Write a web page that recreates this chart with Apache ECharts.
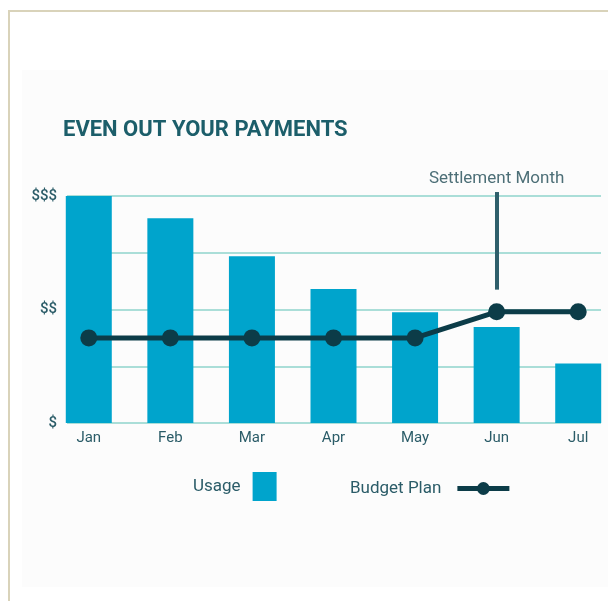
<!DOCTYPE html>
<html>
<head>
<meta charset="utf-8">
<script src="https://cdn.jsdelivr.net/npm/echarts@6/dist/echarts.min.js"></script>
<style>
  body { margin: 0; background: #fff; }
  #frame { position: absolute; left: 8px; top: 10px; width: 600px; height: 591px;
           border-left: 2px solid #d9d3ba; border-top: 2px solid #d9d3ba; box-sizing: border-box; }
  #panel { position: absolute; left: 22px; top: 70px; width: 586px; height: 517px; background: #fcfcfc; }
  #main { position: absolute; left: 0; top: 0; width: 608px; height: 601px; }
</style>
</head>
<body>
<div id="frame"></div>
<div id="panel"></div>
<div id="main"></div>
<script>
// values, in "$" units (axis 0..4)
const months = ['Jan', 'Feb', 'Mar', 'Apr', 'May', 'Jun', 'Jul'];
const usage = [4.0, 3.61, 2.94, 2.36, 1.95, 1.69, 1.05];
const budget = [1.5, 1.5, 1.5, 1.5, 1.5, 1.96, 1.96];
const yTickLabels = ['$', '', '$$', '', '$$$'];
const settlementMonth = 'Jun';
const settlementRange = [4.07, 2.35];

const teal = '#2b5c68';
const barBlue = '#00a4cc';
const lineDark = '#0c3c48';
const gridTeal = '#8fd4cc';

const chart = echarts.init(document.getElementById('main'));

chart.setOption({
    animation: false,
    title: {
        text: 'EVEN OUT YOUR PAYMENTS',
        left: 63,
        top: 119,
        padding: 0,
        textStyle: {
            fontFamily: 'Roboto',
            fontWeight: 'bold',
            fontSize: 22,
            color: '#1c5e6a'
        }
    },
    legend: [{
        data: [{ name: 'Usage', icon: 'rect' }],
        left: 193,
        top: 472,
        padding: 0,
        align: 'right',
        itemWidth: 24,
        itemHeight: 29,
        selectedMode: false,
        textStyle: { fontFamily: 'Roboto', fontSize: 17, color: teal, padding: [4, 7, 0, 0] }
    }, {
        data: ['Budget Plan'],
        left: 350,
        top: 480,
        padding: 0,
        align: 'right',
        itemWidth: 52,
        itemHeight: 16,
        selectedMode: false,
        lineStyle: { width: 5, color: lineDark },
        textStyle: { fontFamily: 'Roboto', fontSize: 17, color: teal, padding: [2, 11, 0, 0] }
    }],
    grid: [
        { left: 67, right: 7, top: 196, bottom: 178, outerBoundsMode: 'none' },
        { left: 48, width: 571, top: 139.25, bottom: 178, outerBoundsMode: 'none' }
    ],
    xAxis: [{
        type: 'category',
        gridIndex: 0,
        data: months,
        show: false
    }, {
        type: 'category',
        gridIndex: 1,
        data: months,
        axisLine: { show: false },
        axisTick: { show: false },
        axisLabel: { fontFamily: 'Roboto', fontSize: 15, color: teal, margin: 8 }
    }],
    yAxis: [{
        type: 'value',
        gridIndex: 0,
        min: 0,
        max: 4,
        interval: 1,
        axisLine: { show: false },
        axisTick: { show: false },
        splitLine: { lineStyle: { color: gridTeal, width: 1.5 } },
        axisLabel: {
            fontFamily: 'Roboto',
            fontSize: 15,
            fontWeight: 500,
            color: teal,
            margin: 10,
            formatter: (v) => yTickLabels[Math.round(v)] || ''
        }
    }, {
        type: 'value',
        gridIndex: 1,
        min: 0,
        max: 5,
        show: false
    }],
    series: [{
        name: 'Usage',
        type: 'bar',
        xAxisIndex: 1,
        yAxisIndex: 1,
        barWidth: 46,
        itemStyle: { color: barBlue },
        data: usage
    }, {
        name: 'Budget Plan',
        type: 'line',
        xAxisIndex: 1,
        yAxisIndex: 1,
        symbol: 'circle',
        symbolSize: 17,
        itemStyle: { color: lineDark },
        lineStyle: { color: lineDark, width: 5 },
        data: budget,
        z: 5,
        markLine: {
            silent: true,
            symbol: ['none', 'none'],
            lineStyle: { color: '#2f5f6b', width: 4, type: 'solid' },
            label: {
                show: true,
                position: 'start',
                formatter: 'Settlement Month',
                fontFamily: 'Roboto',
                fontSize: 17,
                color: '#4d6f77',
                distance: 5
            },
            data: [[
                { coord: [settlementMonth, settlementRange[0]] },
                { coord: [settlementMonth, settlementRange[1]] }
            ]]
        }
    }]
});
</script>
</body>
</html>
